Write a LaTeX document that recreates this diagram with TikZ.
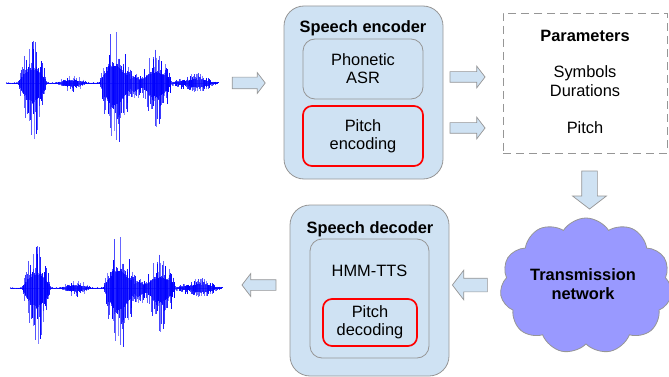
\documentclass[tikz,border=0pt]{standalone}
\usepackage{fontspec}
\setmainfont{Liberation Sans}
\usetikzlibrary{shapes.arrows,shapes.symbols}

\definecolor{boxblue}{RGB}{207,226,243}
\definecolor{linegray}{RGB}{150,150,150}
\definecolor{cloudblue}{RGB}{153,153,255}
\definecolor{waveblue}{RGB}{0,0,255}

% one speech signal, drawn from its left end on the baseline
\newcommand{\speechwave}[2]{%
  \pgfmathsetseed{42}
  \draw[wave, opacity=0.5] (#1,#2) -- ++(212,0);
  \foreach \u in {0,0.5,...,212}{
    \pgfmathsetmacro{\en}{env(\u)}
    \pgfmathsetmacro{\ra}{rnd}
    \pgfmathsetmacro{\rb}{rnd}
    \pgfmathsetmacro{\up}{0.8*\en*(0.3+0.7*\ra*\ra*\ra)}
    \pgfmathsetmacro{\dn}{1.05*\en*(0.3+0.7*\rb*\rb*\rb)}
    \pgfmathsetmacro{\op}{0.45+0.55*rnd}
    \draw[wave, opacity=\op] (#1+\u,#2-\up) -- (#1+\u,#2+\dn);
  }
}

\begin{document}
\begin{tikzpicture}[x=1pt, y=-1pt,
  txt/.style={font=\fontsize{16.4}{18}\selectfont, align=center, inner sep=0pt},
  title/.style={txt, font=\fontsize{16.4}{18}\selectfont\bfseries, anchor=base},
  outer box/.style={draw=linegray, fill=boxblue, line width=0.8pt, rounded corners=20pt, inner sep=0pt},
  inner box/.style={draw=linegray, line width=0.8pt, rounded corners=12pt, inner sep=0pt},
  pitch box/.style={draw=red, line width=1.7pt, rounded corners=9pt, inner sep=0pt},
  block arrow/.style={single arrow, draw=linegray, fill=boxblue, line width=0.7pt,
    single arrow tip angle=105},
  wave/.style={draw=waveblue, line width=0.45pt},
  declare function={bump(\xu,\xa,\xb,\xh)=(\xu>\xa)*(\xu<\xb)*\xh*sin(180/(\xb-\xa)*(\xu-\xa));
    env(\xv)=1+bump(\xv,12,41,55)+bump(\xv,51,81,9)+bump(\xv,93,124,68)
      +bump(\xv,118,138,20)+bump(\xv,134,166,42)+bump(\xv,163,212,7)+bump(\xv,180,205,5);}]
  \useasboundingbox (0,0) rectangle (669,377);

  % signals
  \speechwave{6}{83}
  \speechwave{10}{288}

  % encoder
  \node[outer box, minimum width=159pt, minimum height=173pt] (enc) at (363.5,92.5) {};
  \node[title] (enctitle) at (363,33) {Speech encoder};
  \node[inner box, minimum width=120pt, minimum height=60pt] (asr) at (363,69) {};
  \node[txt] (asrtext) at (asr.center) {Phonetic\\ASR};
  \node[pitch box, minimum width=120pt, minimum height=60pt] (penc) at (363,136) {};
  \node[txt] (penctext) at (penc.center) {Pitch\\encoding};

  % parameters
  \node[draw=linegray, dash pattern=on 8pt off 5pt, line width=0.8pt,
    minimum width=164pt, minimum height=140pt, inner sep=0pt] (par) at (585,83) {};
  \node[title] (partitle) at (585,42) {Parameters};
  \node[txt, anchor=base] (sym) at (585,78) {Symbols};
  \node[txt, anchor=base] (dur) at (585,97) {Durations};
  \node[txt, anchor=base] (pitch) at (585,133) {Pitch};

  % network
  \node[cloud, cloud puffs=11, cloud puff arc=115, draw=linegray, fill=cloudblue,
    line width=0.8pt, minimum width=172pt, minimum height=136pt, inner sep=0pt] (net) at (586,286) {};
  \node[txt, font=\fontsize{16.4}{19}\selectfont\bfseries] (nettext) at (583,284) {Transmission\\network};

  % decoder
  \node[outer box, minimum width=159pt, minimum height=171pt] (dec) at (369.5,290.5) {};
  \node[title] (dectitle) at (370,233) {Speech decoder};
  \node[inner box, minimum width=119pt, minimum height=119pt] (tts) at (369.5,298.5) {};
  \node[txt, anchor=base] (ttstext) at (369.5,276) {HMM-TTS};
  \node[pitch box, minimum width=94pt, minimum height=47pt] (pdec) at (370,322.5) {};
  \node[txt] (pdectext) at (pdec.center) {Pitch\\decoding};

  % arrows
  \node[block arrow, inner sep=5.5pt, minimum height=33pt, single arrow head extend=4.5pt] (a1) at (246.5,83) {};
  \node[block arrow, inner sep=5pt, minimum height=35pt, single arrow head extend=5.5pt] (a2) at (465.5,77) {};
  \node[block arrow, inner sep=5pt, minimum height=35pt, single arrow head extend=5.5pt] (a3) at (465.5,128) {};
  \node[block arrow, inner sep=7.5pt, minimum height=38pt, single arrow head extend=9pt,
    shape border rotate=270] (a4) at (589.5,187) {};
  \node[block arrow, inner sep=6.5pt, minimum height=35pt, single arrow head extend=8pt,
    shape border rotate=180] (a5) at (472.5,285) {};
  \node[block arrow, inner sep=5pt, minimum height=34pt, single arrow head extend=6pt,
    shape border rotate=180] (a6) at (261,285) {};
\end{tikzpicture}
\end{document}
